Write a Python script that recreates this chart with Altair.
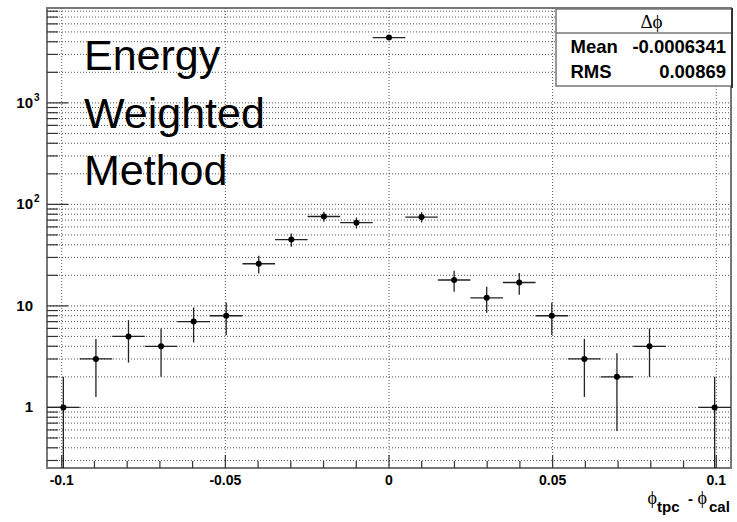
import altair as alt
import pandas as pd
import numpy as np

# ---------------- data ----------------
bin_centers = [-0.0995, -0.08955, -0.0796, -0.06965, -0.0597, -0.04975, -0.0398,
               -0.02985, -0.0199, -0.00995, 0.0, 0.00995, 0.0199, 0.02985, 0.0398,
               0.04975, 0.0597, 0.06965, 0.0796, 0.08955, 0.0995]
counts = [1, 3, 5, 4, 7, 8, 26, 45, 76, 66, 4400, 75, 18, 12, 17, 8, 3, 2, 4, 0, 1]
bin_width = 0.00995

x_major = [-0.1, -0.05, 0.0, 0.05, 0.1]
x_major_labels = ["-0.1", "-0.05", "0", "0.05", "0.1"]
x_minor = [-0.09, -0.08, -0.07, -0.06, -0.04, -0.03, -0.02, -0.01,
           0.01, 0.02, 0.03, 0.04, 0.06, 0.07, 0.08, 0.09]
y_major = [1, 10, 100, 1000]
y_major_base = ["1", "10", "10", "10"]
y_major_sup = ["", "", "2", "3"]
y_minor = [0.3, 0.4, 0.5, 0.6, 0.7, 0.8, 0.9,
           2, 3, 4, 5, 6, 7, 8, 9,
           20, 30, 40, 50, 60, 70, 80, 90,
           200, 300, 400, 500, 600, 700, 800, 900,
           2000, 3000, 4000, 5000, 6000, 7000, 8000]

stats_title = "Δϕ"
stats_names = ["Mean", "RMS"]
stats_values = ["-0.0006341", "0.00869"]
annotation = "Energy\nWeighted\nMethod"

X_DOMAIN = [-0.1045, 0.1045]
Y_DOMAIN = [0.253, 8600]

W, H = 684, 460

# ---------------- frames ----------------
pts = pd.DataFrame({"x": bin_centers, "n": counts})
pts = pts[pts["n"] > 0].copy()
err = np.sqrt(pts["n"])
pts["lo"] = np.maximum(pts["n"] - err, Y_DOMAIN[0])
pts["hi"] = pts["n"] + err
pts["xlo"] = pts["x"] - bin_width / 2
pts["xhi"] = pts["x"] + bin_width / 2

ygrid_df = pd.DataFrame({"v": sorted(y_major + y_minor)})
xgrid_df = pd.DataFrame({"v": x_major})
ymaj_df = pd.DataFrame({"v": y_major, "base": y_major_base, "sup": y_major_sup})
ymin_df = pd.DataFrame({"v": y_minor})
xmaj_df = pd.DataFrame({"v": x_major, "lab": x_major_labels})
xmin_df = pd.DataFrame({"v": x_minor})
one = pd.DataFrame({"a": [0]})

xs = alt.Scale(domain=X_DOMAIN, nice=False, zero=False)
ys = alt.Scale(type="log", domain=Y_DOMAIN, nice=False)

SANS = "Liberation Sans"
SERIF = "Liberation Serif"

# grid
ygrid = alt.Chart(ygrid_df).mark_rule(strokeDash=[1, 2], color="#555", strokeWidth=1).encode(
    y=alt.Y("v:Q", scale=ys, axis=None), x=alt.value(0), x2=alt.value(W))
xgrid = alt.Chart(xgrid_df).mark_rule(strokeDash=[1, 2], color="#555", strokeWidth=1).encode(
    x=alt.X("v:Q", scale=xs, axis=None), y=alt.value(0), y2=alt.value(H))

# ticks
ytick_maj = alt.Chart(ymaj_df).mark_rule(color="#333", strokeWidth=1.2).encode(
    y=alt.Y("v:Q", scale=ys, axis=None), x=alt.value(0), x2=alt.value(21))
ytick_min = alt.Chart(ymin_df).mark_rule(color="#333", strokeWidth=1.2).encode(
    y=alt.Y("v:Q", scale=ys, axis=None), x=alt.value(0), x2=alt.value(11))
xtick_maj = alt.Chart(xmaj_df).mark_rule(color="#333", strokeWidth=1.2).encode(
    x=alt.X("v:Q", scale=xs, axis=None), y=alt.value(H), y2=alt.value(H - 13))
xtick_min = alt.Chart(xmin_df).mark_rule(color="#333", strokeWidth=1.2).encode(
    x=alt.X("v:Q", scale=xs, axis=None), y=alt.value(H), y2=alt.value(H - 7))

# data
herr = alt.Chart(pts).mark_rule(color="#222", strokeWidth=1.3).encode(
    x=alt.X("xlo:Q", scale=xs, axis=None), x2="xhi:Q",
    y=alt.Y("n:Q", scale=ys, axis=None))
verr = alt.Chart(pts).mark_rule(color="#222", strokeWidth=1.3).encode(
    x=alt.X("x:Q", scale=xs, axis=None),
    y=alt.Y("lo:Q", scale=ys, axis=None), y2="hi:Q")
dots = alt.Chart(pts).mark_circle(size=36, color="black", opacity=1).encode(
    x=alt.X("x:Q", scale=xs, axis=None), y=alt.Y("n:Q", scale=ys, axis=None))

# tick labels
ylab = alt.Chart(ymaj_df).mark_text(align="right", baseline="middle", font=SANS,
                                    fontWeight="bold", fontSize=15, color="black").encode(
    y=alt.Y("v:Q", scale=ys, axis=None), x=alt.value(-14), text="base:N")
ysup = alt.Chart(ymaj_df).mark_text(align="left", baseline="middle", font=SANS,
                                    fontWeight="bold", fontSize=10, dy=-5, color="black").encode(
    y=alt.Y("v:Q", scale=ys, axis=None), x=alt.value(-13), text="sup:N")
xlab = alt.Chart(xmaj_df).mark_text(align="center", baseline="alphabetic", font=SANS,
                                    fontWeight="bold", fontSize=14, color="black").encode(
    x=alt.X("v:Q", scale=xs, axis=None), y=alt.value(H + 16.5), text="lab:N")

# x title pieces
def txt(s, x, y, size, font, weight="normal"):
    return alt.Chart(one).mark_text(align="left", baseline="alphabetic", font=font,
                                    fontWeight=weight, fontSize=size, color="black",
                                    text=s).encode(x=alt.value(x), y=alt.value(y))

xt = [
    txt("ϕ", 600.5, H + 36, 18, SERIF),
    txt("tpc", 610, H + 43.5, 15, SANS, "bold"),
    txt("-", 641, H + 36, 15, SANS, "bold"),
    txt("ϕ", 650.5, H + 36, 18, SERIF),
    txt("cal", 662, H + 43.5, 15, SANS, "bold"),
]

# stats box
box = alt.Chart(one).mark_rect(fill="white", stroke="#777", strokeWidth=1.5).encode(
    x=alt.value(509), x2=alt.value(W + 1), y=alt.value(1), y2=alt.value(78))
box_div = alt.Chart(one).mark_rule(color="#777", strokeWidth=1.5).encode(
    x=alt.value(509), x2=alt.value(W + 1), y=alt.value(25))
box_edge = alt.Chart(one).mark_rule(color="#333", strokeWidth=2).encode(
    x=alt.value(W + 1), y=alt.value(0), y2=alt.value(80))
stats_t = alt.Chart(one).mark_text(align="center", baseline="alphabetic", font=SERIF,
                                   fontSize=19, color="black", text=stats_title).encode(
    x=alt.value(604.5), y=alt.value(20))
stats_rows = []
for i, (nm, vl) in enumerate(zip(stats_names, stats_values)):
    yy = 45.3 + 25 * i
    stats_rows.append(alt.Chart(one).mark_text(align="left", baseline="alphabetic", font=SANS,
                                               fontWeight="bold", fontSize=18.5, color="black",
                                               text=nm).encode(x=alt.value(523.5), y=alt.value(yy)))
    stats_rows.append(alt.Chart(one).mark_text(align="right", baseline="alphabetic", font=SANS,
                                               fontWeight="bold", fontSize=18.5, color="black",
                                               text=vl).encode(x=alt.value(679), y=alt.value(yy)))

# annotation
ann = alt.Chart(one).mark_text(align="left", baseline="alphabetic", font=SANS,
                               fontSize=43, lineBreak="\n", lineHeight=57.5, color="black",
                               text=annotation).encode(x=alt.value(37), y=alt.value(62))

chart = alt.layer(
    ygrid, xgrid, ytick_maj, ytick_min, xtick_maj, xtick_min,
    herr, verr, dots, ylab, ysup, xlab, *xt,
    box, box_div, box_edge, stats_t, *stats_rows, ann
).properties(
    width=W, height=H, autosize="none",
    padding={"left": 47, "top": 8, "right": 6, "bottom": 54},
    background="white"
).configure_view(stroke="#777", strokeWidth=2)

chart.save("out.html", embed_options={"renderer": "svg", "actions": False})
